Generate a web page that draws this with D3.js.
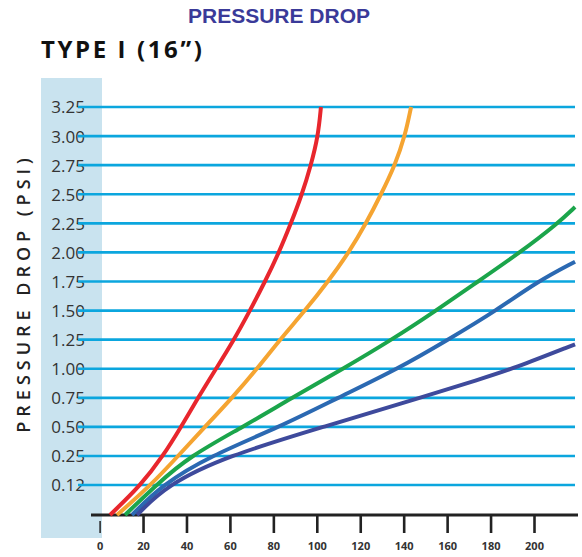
<!DOCTYPE html>
<html>
<head>
<meta charset="utf-8">
<script src="https://cdn.jsdelivr.net/npm/d3@7"></script>
<style>
  body { margin: 0; background: #fff; }
  svg { display: block; }
</style>
</head>
<body>
<div id="chart"></div>
<script>
// Axis ticks
var flowTicks = [0, 20, 40, 60, 80, 100, 120, 140, 160, 180, 200];
var psiTicks = [0.12, 0.25, 0.5, 0.75, 1.0, 1.25, 1.5, 1.75, 2.0, 2.25, 2.5, 2.75, 3.0, 3.25];

// Pressure levels the curves were read at
var psiLevels = [0, 0.12, 0.25, 0.5, 0.75, 1.0, 1.25, 1.5, 1.75, 2.0, 2.25, 2.5, 2.75, 3.0, 3.25];

// Flow for each curve (same order as the psi arrays)
var redFlow    = [4.8, 19.1, 29.2, 37.5, 45.3, 53.6, 61.9, 69.2, 76.2, 82.6, 88.1, 93.2, 97.3, 100.6, 101.9];
var orangeFlow = [8.0, 23.7, 36.1, 48.5, 61.0, 72.5, 83.0, 94.6, 105.2, 114.8, 122.7, 129.6, 136.0, 140.6, 143.4];

var greenPsi  = [0, 0.12, 0.25, 0.5, 0.75, 1.0, 1.25, 1.5, 1.75, 2.0, 2.25, 2.39];
var greenFlow = [11.7, 26.0, 41.6, 66.0, 88.6, 112.1, 134.6, 154.9, 174.2, 193.6, 211.0, 218.9];

var bluePsi  = [0, 0.12, 0.25, 0.5, 0.75, 1.0, 1.25, 1.5, 1.75, 1.92];
var blueFlow = [14.9, 28.7, 50.8, 83.0, 109.7, 137.4, 160.4, 182.6, 201.6, 218.9];

var navyPsi  = [0, 0.12, 0.25, 0.5, 0.75, 0.91, 1.0, 1.21];
var navyFlow = [17.2, 31.0, 58.7, 102.9, 147.5, 175.1, 190.3, 218.9];

var series = [
  {color: "#e8262d", flow: redFlow,    psi: psiLevels},
  {color: "#f5a431", flow: orangeFlow, psi: psiLevels},
  {color: "#1ba54b", flow: greenFlow,  psi: greenPsi},
  {color: "#2b69b2", flow: blueFlow,   psi: bluePsi},
  {color: "#3e4a9c", flow: navyFlow,   psi: navyPsi}
];

var width = 582, height = 557;

var svg = d3.select("#chart")
  .append("svg")
    .attr("width", width)
    .attr("height", height);

// x: flow, y: pressure (bottom two steps are stretched like the original)
var x = d3.scaleLinear().domain([0, 200]).range([99.6, 534]);
var y = d3.scaleLinear().domain([0, 0.12, 0.25, 3.25]).range([515, 485, 456, 107]);

// Light blue label strip
svg.append("rect")
  .attr("x", 41).attr("y", 78)
  .attr("width", 61).attr("height", 460)
  .attr("fill", "#c9e3ef");

// Titles
svg.append("text")
  .attr("x", 279).attr("y", 23)
  .attr("text-anchor", "middle")
  .style("font", "bold 21px 'Liberation Sans', Arial, sans-serif")
  .attr("fill", "#3a3a99")
  .text("PRESSURE DROP");

svg.append("text")
  .attr("x", 41).attr("y", 58)
  .style("font", "bold 24px 'Open Sans', sans-serif")
  .style("letter-spacing", "2.6px")
  .attr("fill", "#111")
  .text("TYPE I (16\u201D)");

svg.append("text")
  .attr("transform", "translate(30,293) rotate(-90)")
  .attr("text-anchor", "middle")
  .style("font", "600 18px 'Open Sans', sans-serif")
  .style("letter-spacing", "5px")
  .attr("fill", "#222")
  .text("PRESSURE DROP (PSI)");

// Y labels then gridlines on top of them
var yAxis = svg.append("g");
yAxis.selectAll("text")
  .data(psiTicks)
  .enter().append("text")
    .attr("x", 85)
    .attr("y", function(d) { return y(d); })
    .attr("dy", "0.38em")
    .attr("text-anchor", "end")
    .style("font", "17px 'Open Sans', sans-serif")
    .attr("fill", "#333")
    .text(d3.format(".2f"));

yAxis.selectAll("line")
  .data(psiTicks)
  .enter().append("line")
    .attr("x1", 78).attr("x2", 575)
    .attr("y1", function(d) { return y(d); })
    .attr("y2", function(d) { return y(d); })
    .attr("stroke", "#0ba6de")
    .attr("stroke-width", 2.6);

// X axis
var xAxis = svg.append("g")
  .attr("transform", "translate(0," + y(0) + ")")
  .call(d3.axisBottom(x).tickValues(flowTicks).tickSize(18).tickSizeOuter(0).tickPadding(9));

xAxis.select(".domain").remove();
xAxis.append("line")
  .attr("x1", 91).attr("x2", 578)
  .attr("stroke", "#222").attr("stroke-width", 3);
xAxis.selectAll(".tick line")
  .attr("stroke", "#222")
  .attr("stroke-width", function(d) { return d == 0 ? 1.5 : 2.6; })
  .attr("y1", function(d) { return d == 0 ? 6 : 0; });
xAxis.selectAll(".tick text")
  .style("font", "bold 11px 'Open Sans', sans-serif")
  .attr("fill", "#333");

// Curves
var line = d3.line()
  .x(function(d) { return x(d[0]); })
  .y(function(d) { return y(d[1]); })
  .curve(d3.curveBasis);

series.forEach(function(s) {
  var pts = s.flow.map(function(f, i) { return [f, s.psi[i]]; });
  svg.append("path")
    .datum(pts)
    .attr("d", line)
    .attr("fill", "none")
    .attr("stroke", s.color)
    .attr("stroke-width", 4)
    .attr("stroke-linecap", "butt");
});
</script>
</body>
</html>
